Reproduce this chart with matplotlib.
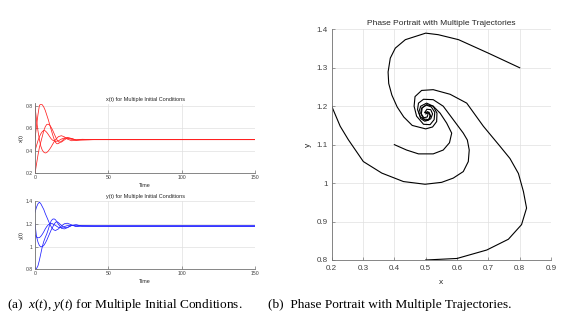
import matplotlib
matplotlib.use("Agg")
import matplotlib.pyplot as plt

plt.rcParams['font.family'] = ['Liberation Sans', 'DejaVu Sans']
plt.rcParams['mathtext.fontset'] = 'custom'
plt.rcParams['mathtext.rm'] = 'Liberation Serif'
plt.rcParams['mathtext.it'] = 'Liberation Serif:italic'

# ---------------- time series data ----------------
tA = [0, 1, 2, 3, 4, 5, 6, 7, 8, 9, 10, 11, 12, 13, 14, 16, 18, 20, 22, 25, 28, 32, 40, 150]
xA = [0.80, 0.68, 0.58, 0.50, 0.44, 0.405, 0.388, 0.381, 0.385, 0.398, 0.415, 0.435, 0.458,
      0.48, 0.50, 0.527, 0.535, 0.525, 0.505, 0.490, 0.495, 0.503, 0.500, 0.500]
yA = [1.30, 1.345, 1.375, 1.39, 1.375, 1.35, 1.325, 1.29, 1.26, 1.23, 1.20, 1.175, 1.155,
      1.145, 1.141, 1.155, 1.18, 1.20, 1.205, 1.19, 1.175, 1.182, 1.18, 1.18]

tB = [0, 1, 2, 3, 4, 5, 6, 7, 8, 9, 10, 11, 12, 13, 14, 15, 16, 18, 20, 22, 25, 28, 32, 40, 150]
xB = [0.2, 0.28, 0.36, 0.43, 0.48, 0.53, 0.58, 0.615, 0.635, 0.638, 0.63, 0.61, 0.585, 0.555,
      0.525, 0.498, 0.480, 0.478, 0.497, 0.515, 0.510, 0.497, 0.498, 0.500, 0.500]
yB = [1.2, 1.09, 1.04, 1.008, 0.998, 0.999, 1.01, 1.03, 1.055, 1.085, 1.115, 1.145, 1.17, 1.195,
      1.213, 1.218, 1.21, 1.185, 1.167, 1.168, 1.185, 1.19, 1.181, 1.18, 1.18]

tC = [0, 1, 2, 3, 4, 5, 6, 7, 8, 9, 10, 11, 12, 14, 16, 18, 20, 22, 25, 28, 32, 40, 150]
xC = [0.4, 0.445, 0.49, 0.525, 0.553, 0.572, 0.582, 0.578, 0.565, 0.547, 0.527, 0.508, 0.495,
      0.484, 0.49, 0.505, 0.515, 0.512, 0.502, 0.497, 0.499, 0.5, 0.5]
yC = [1.1, 1.085, 1.077, 1.078, 1.09, 1.108, 1.13, 1.155, 1.175, 1.19, 1.2, 1.204, 1.2,
      1.185, 1.168, 1.167, 1.175, 1.184, 1.186, 1.18, 1.179, 1.18, 1.18]

tD = [0, 1, 2, 3, 4, 5, 6, 7, 8, 9, 10, 11, 12, 13, 14, 15, 16, 18, 20, 22, 25, 28, 32, 40, 150]
xD = [0.5, 0.62, 0.72, 0.805, 0.818, 0.81, 0.79, 0.76, 0.72, 0.68, 0.635, 0.59, 0.545, 0.505,
      0.475, 0.463, 0.465, 0.485, 0.51, 0.52, 0.51, 0.496, 0.498, 0.500, 0.500]
yD = [0.8, 0.806, 0.83, 0.88, 0.94, 1.0, 1.045, 1.08, 1.11, 1.148, 1.19, 1.225, 1.24, 1.243,
      1.235, 1.215, 1.195, 1.16, 1.155, 1.165, 1.185, 1.19, 1.181, 1.18, 1.18]

# ---------------- phase portrait data ----------------
pxA = [0.80, 0.70, 0.605, 0.54, 0.50, 0.435, 0.403, 0.387, 0.380, 0.382, 0.392, 0.409, 0.430,
       0.457, 0.50, 0.522, 0.535, 0.536, 0.524, 0.503, 0.484, 0.478, 0.484, 0.497, 0.510, 0.514,
       0.507, 0.498]
pyA = [1.30, 1.338, 1.373, 1.386, 1.390, 1.373, 1.351, 1.325, 1.289, 1.259, 1.229, 1.198, 1.172,
       1.150, 1.141, 1.146, 1.160, 1.182, 1.200, 1.208, 1.200, 1.184, 1.168, 1.161, 1.164, 1.176,
       1.186, 1.183]

pxB = [0.2, 0.227, 0.253, 0.301, 0.36, 0.429, 0.498, 0.551, 0.588, 0.62, 0.636, 0.639, 0.633,
       0.62, 0.588, 0.556, 0.524, 0.493, 0.477, 0.474, 0.483, 0.500, 0.516, 0.522, 0.516, 0.504,
       0.497]
pyB = [1.2, 1.148, 1.113, 1.056, 1.026, 1.004, 0.997, 1.002, 1.013, 1.03, 1.056, 1.086, 1.112,
       1.13, 1.165, 1.2, 1.217, 1.218, 1.208, 1.191, 1.172, 1.163, 1.167, 1.180, 1.191, 1.192,
       1.184]

pxC = [0.4, 0.439, 0.477, 0.524, 0.556, 0.576, 0.583, 0.567, 0.546, 0.524, 0.503, 0.487, 0.484,
       0.493, 0.509, 0.516, 0.511, 0.500]
pyC = [1.1, 1.086, 1.076, 1.076, 1.086, 1.105, 1.13, 1.156, 1.182, 1.2, 1.204, 1.195, 1.182,
       1.167, 1.165, 1.174, 1.184, 1.180]

pxD = [0.5, 0.6, 0.695, 0.764, 0.806, 0.822, 0.812, 0.796, 0.769, 0.737, 0.684, 0.631, 0.578,
       0.524, 0.487, 0.466, 0.463, 0.471, 0.493, 0.514, 0.527, 0.529, 0.518, 0.502, 0.489, 0.486,
       0.494, 0.505, 0.508, 0.500]
pyD = [0.8, 0.804, 0.826, 0.854, 0.892, 0.935, 0.978, 1.025, 1.064, 1.096, 1.148, 1.208, 1.231,
       1.243, 1.241, 1.225, 1.2, 1.174, 1.153, 1.152, 1.165, 1.184, 1.198, 1.203, 1.196, 1.180,
       1.170, 1.172, 1.182, 1.184]

t_ticks = [0, 50, 100, 150]
x_ticks = [0.2, 0.4, 0.6, 0.8]
y_ticks = [0.8, 1.0, 1.2, 1.4]
px_ticks = [0.2, 0.3, 0.4, 0.5, 0.6, 0.7, 0.8, 0.9]
py_ticks = [0.8, 0.9, 1.0, 1.1, 1.2, 1.3, 1.4]

W, H = 584, 329
fig = plt.figure(figsize=(W / 100, H / 100), dpi=100)


def ax_px(l, t, r, b):
    return fig.add_axes([l / W, 1 - b / H, (r - l) / W, (b - t) / H])


def style(ax, fs, xpad, ypad):
    for s in ['top', 'right']:
        ax.spines[s].set_visible(False)
    for s in ['left', 'bottom']:
        ax.spines[s].set_color('0.45')
        ax.spines[s].set_linewidth(0.6)
    ax.grid(True, color='0.88', linewidth=0.5)
    ax.set_axisbelow(True)
    ax.tick_params(direction='in', length=2, width=0.5, colors='0.45',
                   labelcolor='0.25', labelsize=fs)
    ax.tick_params(axis='x', pad=xpad)
    ax.tick_params(axis='y', pad=ypad)


def fmt(v):
    return f"{v:g}"


# top-left: x(t)
ax1 = ax_px(35, 103.5, 255, 173.3)
for t, v in [(tA, xA), (tB, xB), (tC, xC), (tD, xD)]:
    ax1.plot(t, v, color='#ff2020', lw=0.55)
ax1.set_xlim(0, 150)
ax1.set_ylim(0.2, 0.822)
ax1.set_xticks(t_ticks)
ax1.set_yticks(x_ticks)
ax1.set_yticklabels([fmt(v) for v in x_ticks])
style(ax1, 3.7, 1.5, 1.5)
ax1.set_title('x(t) for Multiple Initial Conditions', fontsize=4.0, pad=2, color='0.15')
ax1.set_xlabel('Time', fontsize=3.9, labelpad=1.8, color='0.15')
ax1.set_ylabel('x(t)', fontsize=3.9, labelpad=1.5, color='0.15')

# bottom-left: y(t)
ax2 = ax_px(35, 201, 255, 269.3)
for t, v in [(tA, yA), (tB, yB), (tC, yC), (tD, yD)]:
    ax2.plot(t, v, color='#2020ff', lw=0.55)
ax2.set_xlim(0, 150)
ax2.set_ylim(0.8, 1.4)
ax2.set_xticks(t_ticks)
ax2.set_yticks(y_ticks)
ax2.set_yticklabels([fmt(v) for v in y_ticks])
style(ax2, 3.7, 1.5, 1.5)
ax2.set_title('y(t) for Multiple Initial Conditions', fontsize=4.0, pad=2, color='0.15')
ax2.set_xlabel('Time', fontsize=3.9, labelpad=1.8, color='0.15')
ax2.set_ylabel('y(t)', fontsize=3.9, labelpad=1.5, color='0.15')

# right: phase portrait
ax3 = ax_px(331.7, 29.3, 551, 260)
for px, py in [(pxA, pyA), (pxB, pyB), (pxC, pyC), (pxD, pyD)]:
    ax3.plot(px, py, color='black', lw=0.8)
ax3.set_xlim(0.2, 0.9)
ax3.set_ylim(0.8, 1.4)
ax3.set_xticks(px_ticks)
ax3.set_yticks(py_ticks)
ax3.set_xticklabels([fmt(v) for v in px_ticks])
ax3.set_yticklabels([fmt(v) for v in py_ticks])
style(ax3, 5.8, 3.5, 3)
ax3.set_title('Phase Portrait with Multiple Trajectories', fontsize=6.0, pad=3, color='0.15')
ax3.set_xlabel('x', fontsize=6.0, labelpad=5, color='0.15')
ax3.set_ylabel('y', fontsize=6.0, labelpad=3, color='0.15')

# captions
fig.text(7 / W, 1 - 305 / H, '(a)  $x(t)$, $y(t)$ for Multiple Initial Conditions.',
         family='Liberation Serif', fontsize=9.6, va='center', ha='left')
fig.text(268 / W, 1 - 305 / H, '(b)  Phase Portrait with Multiple Trajectories.',
         family='Liberation Serif', fontsize=9.6, va='center', ha='left')

fig.savefig('out.png', dpi=100, facecolor='white')
